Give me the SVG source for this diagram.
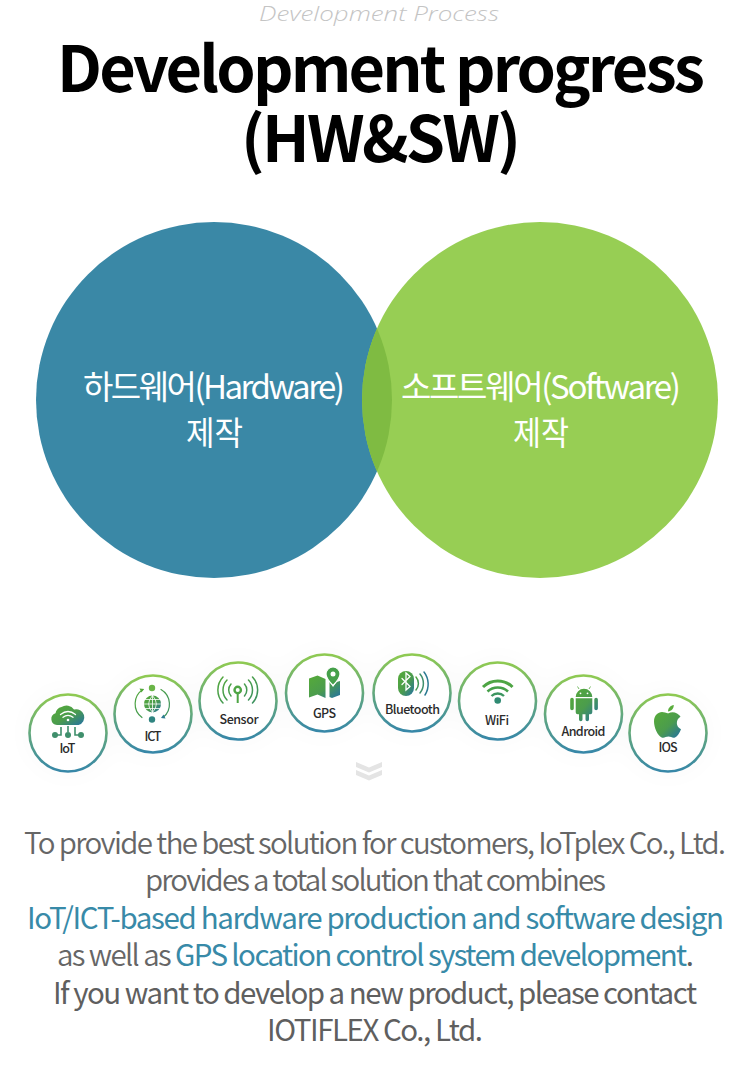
<svg xmlns="http://www.w3.org/2000/svg" width="750" height="1065" viewBox="0 0 750 1065">
<style>
text{font-family:"Noto Sans CJK KR","Noto Sans",sans-serif;text-anchor:middle}
.title{font-size:63px;font-weight:700;fill:#000}
.vt{font-size:33px;font-weight:400;fill:#fff}
.body{font-size:29.500px;font-weight:400;fill:#5f5f5f}
.lt{font-weight:350;fill:#666}
.hl{fill:#388aa8}
.lb{font-size:12.500px;font-weight:500;fill:#2b2b2b}
.ring{fill:#fff;stroke:url(#ringG);stroke-width:2.600}
.ic{fill:url(#icG)}
.ics{fill:none;stroke:url(#icU);stroke-linecap:round}
.w{fill:none;stroke:#fff;stroke-linecap:round}
</style>
<defs>
<linearGradient id="ringG" x1="0" y1="0" x2="0" y2="1"><stop offset="0" stop-color="#8fca52"/><stop offset="1" stop-color="#3787a8"/></linearGradient>
<linearGradient id="icG" x1="0.1" y1="0.1" x2="0.9" y2="0.9"><stop offset="0" stop-color="#54a83c"/><stop offset="0.55" stop-color="#4b9c4d"/><stop offset="1" stop-color="#2c7a92"/></linearGradient>
<linearGradient id="icU" x1="0" y1="0" x2="1" y2="1"><stop offset="0" stop-color="#54a83c"/><stop offset="1" stop-color="#3a9060"/></linearGradient>
<clipPath id="blueClip"><circle cx="214" cy="400" r="178"/></clipPath>
<filter id="halo" x="-40%" y="-40%" width="180%" height="180%"><feGaussianBlur stdDeviation="14"/></filter>
</defs>
<rect width="750" height="1065" fill="#fff"/>

<text x="379" y="21" textLength="240" lengthAdjust="spacingAndGlyphs" style="font-family:'Open Sans',sans-serif;font-style:italic;font-weight:300;font-size:21px;fill:#c4c4c4">Development  Process</text>
<text class="title" x="381" y="92" textLength="648" lengthAdjust="spacing">Development progress</text>
<text class="title" x="381" y="162" textLength="280" lengthAdjust="spacing">(HW&amp;SW)</text>

<g id="hardware">
<circle cx="214" cy="400" r="178" fill="#3a88a6"/>
<text class="vt" x="214" y="399" textLength="262" lengthAdjust="spacing">하드웨어(Hardware)</text>
<text class="vt" x="214.500" y="445" textLength="57" lengthAdjust="spacingAndGlyphs">제작</text>
</g>
<g id="software">
<circle cx="540" cy="400" r="178" fill="#97ce54"/>
<circle cx="540" cy="400" r="178" fill="#7fbb42" clip-path="url(#blueClip)"/>
<text class="vt" x="541" y="399" textLength="280" lengthAdjust="spacing">소프트웨어(Software)</text>
<text class="vt" x="541" y="445" textLength="56" lengthAdjust="spacingAndGlyphs">제작</text>
</g>

<g id="halo-bg" fill="#000" opacity="0.02" filter="url(#halo)">
<circle cx="68" cy="733" r="42"/><circle cx="153" cy="714" r="42"/><circle cx="238" cy="701" r="42"/><circle cx="324" cy="693" r="42"/><circle cx="412" cy="693" r="42"/><circle cx="497" cy="701" r="42"/><circle cx="583" cy="714" r="42"/><circle cx="668" cy="733" r="42"/>
</g>

<g id="iot">
<circle class="ring" cx="68" cy="733" r="38.500"/>
<path class="ic" d="M57 725a6 6 0 0 1-1.500-11.700 8 8 0 0 1 6-6.300 9 9 0 0 1 12.500 2.500 7.500 7.500 0 0 1 4.500 15.500z"/>
<path class="w" stroke-width="1.300" d="M60.500 714.500q7.500-6 15 0M63 717.300q5-4 10 0"/><circle cx="68" cy="720" r="1.300" fill="#fff"/>
<g fill="#3f8f6c"><circle cx="55" cy="735" r="3"/><circle cx="68" cy="735" r="3"/><circle cx="81" cy="735" r="3"/></g>
<path fill="none" stroke="#3f8f6c" stroke-width="1.600" d="M68 726v6M61 727v8h-4M75 727v8h4"/>
<text class="lb" x="67.500" y="753" textLength="16">IoT</text>
</g>

<g id="ict">
<circle class="ring" cx="153" cy="714" r="38.500"/>
<circle cx="152" cy="688" r="3.200" fill="#6ab548"/><circle cx="152" cy="719.500" r="3.200" fill="#2f8480"/>
<circle cx="152.500" cy="704" r="8.500" class="ic"/>
<path class="w" stroke-width="0.800" d="M144 704h17M145.500 699.500h14M145.500 708.500h14M152.500 695.500v17M152.500 695.500q-8 8.500 0 17M152.500 695.500q8 8.500 0 17"/>
<path class="ics" stroke-width="1.200" d="M143 689.500a17 17 0 0 0-1 28M161 689.500a17 17 0 0 1 2 28"/>
<path d="M144 689l-4.500-.5 2 4z" fill="#54a83c"/><path d="M161 718l4.500.5-2-4z" fill="#2c7a92"/>
<text class="lb" x="153" y="741" textLength="17">ICT</text>
</g>

<g id="sensor">
<circle class="ring" cx="238" cy="701" r="38.500"/>
<circle cx="237.700" cy="690" r="3.200" fill="none" stroke="#4ea544" stroke-width="2.400"/>
<path d="M237.700 693v10" stroke="#4ea544" stroke-width="2" fill="none"/>
<path class="ics" stroke-width="1.500" d="M231 684a9 9 0 0 0 0 12M244.500 684a9 9 0 0 1 0 12M227 680a14.500 14.500 0 0 0 0 20M248.500 680a14.500 14.500 0 0 1 0 20M223 677a19 19 0 0 0 0 26M252.500 677a19 19 0 0 1 0 26"/>
<text class="lb" x="239" y="724" textLength="39">Sensor</text>
</g>

<g id="gps">
<circle class="ring" cx="324.500" cy="693" r="38.500"/>
<path class="ic" d="M309 678.500l8.500-3 8 3.500v19l-8-3.500-8.500 3zM329.500 681l3.500 6 3.500-5 3.500-1v14l-8 3-2.500-1z"/>
<path d="M333 667a7 7 0 0 1 7 7c0 4-4 8.500-7 11.500-3-3-7-7.500-7-11.500a7 7 0 0 1 7-7z" fill="#45a04a" stroke="#fff" stroke-width="1.200"/>
<circle cx="333" cy="674" r="2.500" fill="#fff"/>
<text class="lb" x="324.500" y="718" textLength="23">GPS</text>
</g>

<g id="bluetooth">
<circle class="ring" cx="412" cy="693" r="38.500"/>
<rect class="ic" x="398" y="671" width="16" height="25" rx="8"/>
<path class="w" stroke-width="1.300" d="M402 678.500l8 8-4 3.500v-17l4 3.500-8 8"/>
<path class="ics" stroke-width="1.500" d="M416 677a10 10 0 0 1 0 13"/>
<path fill="none" stroke="#3f8f6c" stroke-width="1.500" stroke-linecap="round" d="M420 674a15 15 0 0 1 0 19"/>
<path fill="none" stroke="#2c7a92" stroke-width="1.500" stroke-linecap="round" d="M424 672a20 20 0 0 1 1 23"/>
<text class="lb" x="412.500" y="713.500" textLength="55">Bluetooth</text>
</g>

<g id="wifi">
<circle class="ring" cx="497.500" cy="701" r="38.500"/>
<circle cx="497.700" cy="700.500" r="3.300" fill="#2f8a72"/>
<path fill="none" stroke="#4ea544" stroke-width="3" d="M483 687a21 21 0 0 1 29.500 0"/>
<path fill="none" stroke="#46a04a" stroke-width="2.600" d="M487.500 691.500a15 15 0 0 1 20.500 0"/>
<path fill="none" stroke="#3c9560" stroke-width="2.400" d="M491.500 696a9 9 0 0 1 12.500 0"/>
<text class="lb" x="497" y="724.500" textLength="24">WiFi</text>
</g>

<g id="android">
<circle class="ring" cx="583.500" cy="714" r="38.500"/>
<path class="ic" d="M575.700 697a8.300 8.300 0 0 1 16.600 0zM575.700 698.300h16.600v14a2 2 0 0 1-2 2h-12.600a2 2 0 0 1-2-2zM570.200 699.500a1.800 1.800 0 0 1 3.600 0v9a1.800 1.800 0 0 1-3.600 0zM594.300 699.500a1.800 1.800 0 0 1 3.600 0v9a1.800 1.800 0 0 1-3.600 0zM579 713h3.500v6.500a1.750 1.750 0 0 1-3.500 0zM585.500 713h3.500v6.500a1.750 1.750 0 0 1-3.500 0z"/>
<path stroke="#54a83c" stroke-width="0.800" d="M579 689l-1.500-2.500M589 689l1.500-2.500"/>
<circle cx="580.500" cy="693.300" r="0.900" fill="#fff"/><circle cx="587.500" cy="693.300" r="0.900" fill="#fff"/>
<text class="lb" x="583.500" y="736" textLength="44">Android</text>
</g>

<g id="ios">
<circle class="ring" cx="668" cy="733" r="38.500"/>
<path class="ic" d="M668 713.500c3-1.500 6-1.700 9 0 1.500.8 2.700 2 3.500 3.200-5 3-4.800 10 .5 12.500-1.200 3.300-3.500 7-6 8.200-2.300 1-4-.8-6.500-.8-2.700 0-4.500 1.800-6.800.8-4.200-2-7.700-10-7.700-16 0-6 4-9.500 8-9.500 2 0 4 1 6.500 1.600z"/>
<path d="M668 711.500c0-3.500 2.500-6 5.800-6.500 0 3.500-2.300 6-5.800 6.500z" fill="#5aad3d"/>
<text class="lb" x="668" y="752" textLength="19">IOS</text>
</g>

<path id="chevrons" fill="#e4e4e4" d="M356 762l13 5.500 13-5.500v5l-13 5.500-13-5.500zM356 770l13 5.500 13-5.500v5l-13 5.500-13-5.500z"/>

<g id="copy">
<text class="body lt" x="375" y="854" textLength="702" lengthAdjust="spacing">To provide the best solution for customers, IoTplex Co., Ltd.</text>
<text class="body lt" x="375.500" y="891" textLength="461" lengthAdjust="spacing">provides a total solution that combines</text>
<text class="body hl" x="375.500" y="929" textLength="697" lengthAdjust="spacing">IoT/ICT-based hardware production and software design</text>
<text class="body" x="375.500" y="966" textLength="637" lengthAdjust="spacing"><tspan class="lt">as well as </tspan><tspan class="hl">GPS location control system development</tspan>.</text>
<text class="body" x="375" y="1004" textLength="644" lengthAdjust="spacing">If you want to develop a new product, please contact</text>
<text class="body" x="375" y="1041" textLength="216" lengthAdjust="spacing">IOTIFLEX Co., Ltd.</text>
</g>
</svg>
